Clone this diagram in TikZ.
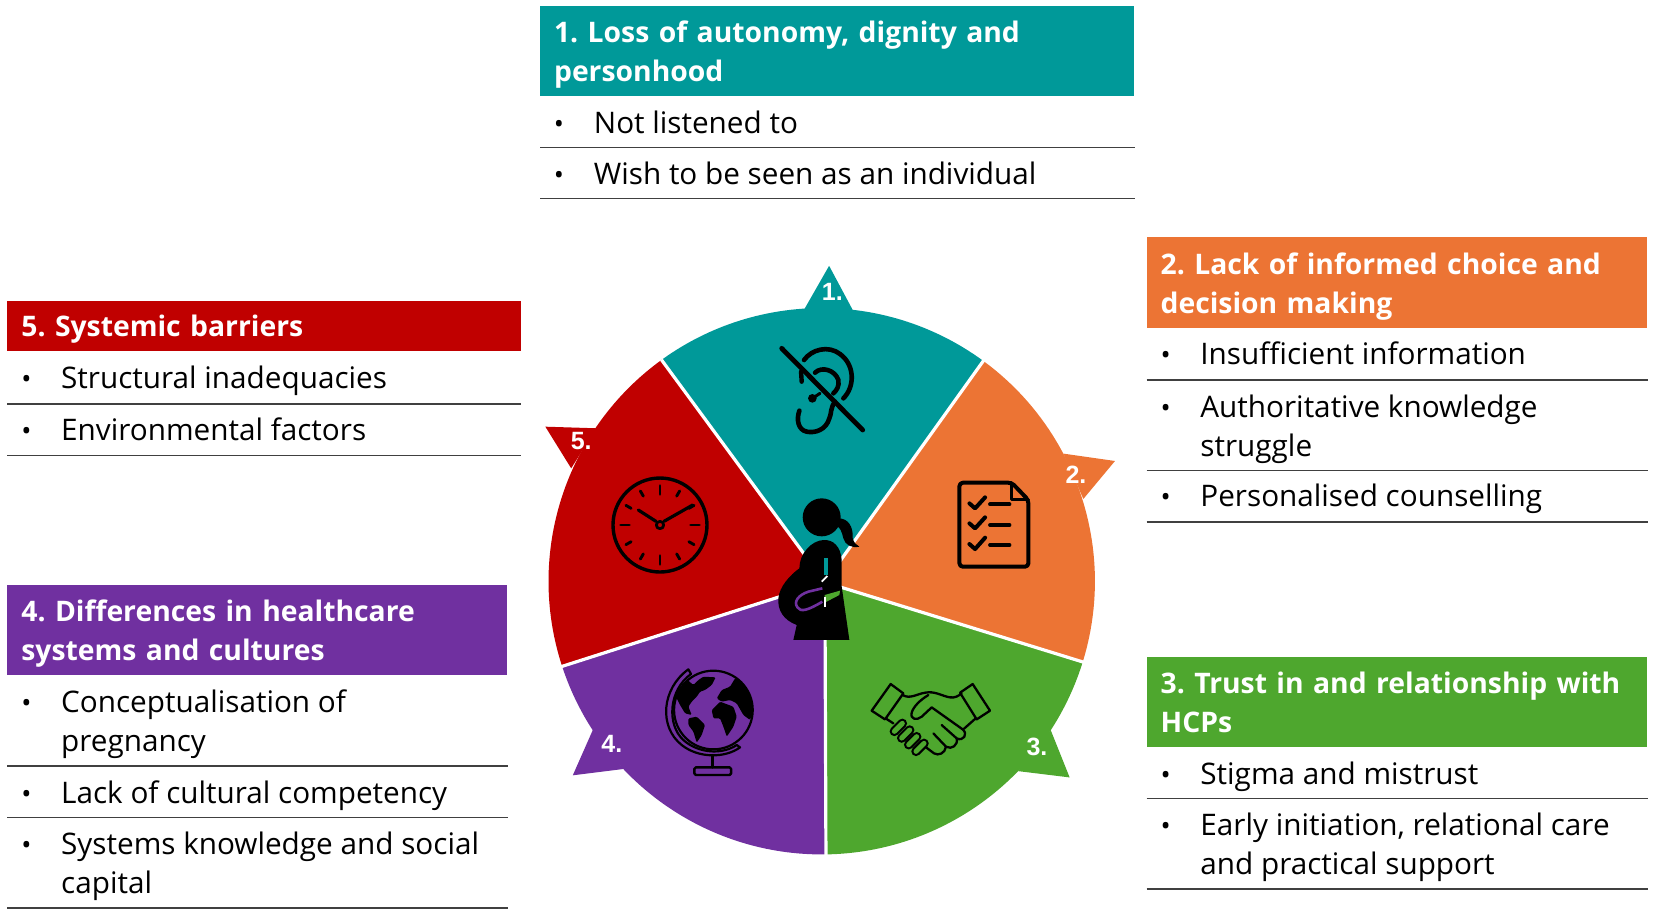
\documentclass[tikz,border=0pt]{standalone}
\usepackage{fontspec}
\setmainfont{Open Sans}
\newfontfamily\tipfont{Liberation Sans}
\definecolor{cteal}{HTML}{009999}
\definecolor{corange}{HTML}{EC7434}
\definecolor{cgreen}{HTML}{4EA72E}
\definecolor{cred}{HTML}{C00000}
\definecolor{cpurple}{HTML}{7030A0}
\definecolor{crule}{HTML}{404040}
\newcommand{\bodyfont}{\frenchspacing\fontsize{29.7}{39}\selectfont}
\newcommand{\headfont}{\frenchspacing\fontsize{28.3}{39}\selectfont\bfseries}
\tikzset{
  hdrbox/.style={anchor=north west,inner xsep=14pt,inner ysep=0pt,outer sep=0pt,align=left,text=white,font=\headfont},
  itemtext/.style={anchor=base west,inner sep=0pt,outer sep=0pt,align=left,font=\bodyfont,text=black},
  bullettext/.style={anchor=base,inner sep=0pt,outer sep=0pt,font=\fontsize{27}{27}\selectfont,text=black},
  tiplabel/.style={inner sep=0pt,text=white,font=\tipfont\fontsize{25}{25}\selectfont\bfseries},
  rulesep/.style={crule,line width=1.6pt},
  divider/.style={white,line width=3.2pt},
  icon/.style={black,line cap=round,line join=round},
}
\newcommand{\hdr}[7]{\node[hdrbox,fill=#2,minimum width={1.0548pt*(#5-#3)},minimum height={1.0548pt*(#6-#4)},text width={1.0548pt*(#5-#3)-28pt}] (#1) at (#3,#4) {\rule{0pt}{29pt}#7\rule[-7pt]{0pt}{7pt}};}
% name, bullet x, text x, last baseline, text, bullet baseline
\newcommand{\itm}[6]{\node[bullettext] (#1b) at (#2,#6) {•};\node[itemtext] (#1) at (#3,#4) {#5};}
\newcommand{\sep}[3]{\draw[rulesep] (#1,#3) -- (#2,#3);}
\newcommand{\sector}[4]{\fill[#1] (782,552) -- ([shift={(#2:259)}]779,551) arc[start angle=#2,end angle=#3,radius=259] -- cycle; \fill[#1] #4 -- cycle;}
\begin{document}
\begin{tikzpicture}[x=1.0548pt,y=-1.0548pt]
\useasboundingbox (0,0) rectangle (1568,868);
% pie
\sector{cteal}{-125.8}{-53.6}{(762,294) -- (786,252) -- (809,295)}
\sector{corange}{-53.6}{17.2}{(1008,430) -- (1057,437) -- (1027,473)}
\sector{cgreen}{17.2}{89.1}{(996,692) -- (1014,737) -- (965,731)}
\sector{cpurple}{89.1}{161.8}{(562,692) -- (543,735) -- (591,729)}
\sector{cred}{161.8}{234.2}{(565,406) -- (517,404.5) -- (541.5,444)}
\coordinate (apex) at (782,552);
\coordinate (e12) at (933,341);
\coordinate (e23) at (1028,628);
\coordinate (e34) at (783,811);
\coordinate (e45) at (532,632);
\coordinate (e51) at (627,341);
\foreach \e in {e12,e23,e34,e45,e51} \draw[divider] (apex) -- (\e);
\node[tiplabel] (t1) at (789,277) {1.};
\node[tiplabel] (t2) at (1020,450) {2.};
\node[tiplabel] (t3) at (983,708) {3.};
\node[tiplabel] (t4) at (580,705) {4.};
\node[tiplabel] (t5) at (551,418) {5.};
% ear
\begin{scope}[shift={(701.56,312.85)},x=0.3333pt,y=-0.3333pt,icon]
\draw[line width=4.6pt] (192,90) .. controls (215,58) and (265,45) .. (300,72) .. controls (345,105) and (345,170) .. (310,205);
\draw[line width=4.6pt] (225,128) .. controls (245,108) and (285,120) .. (295,150) .. controls (298,170) and (290,180) .. (280,190);
\draw[line width=4.6pt] (285,215) .. controls (270,235) and (275,250) .. (268,265) .. controls (258,300) and (225,310) .. (200,305) .. controls (175,300) and (168,270) .. (178,242);
\fill (217,205) circle[radius=13];
\draw[line width=3pt] (217,205) -- (240,190);
\draw[line width=4.4pt] (183,125) -- (185,155);
\draw[line width=4.8pt] (125,55) -- (368,300);
\end{scope}
% woman
\begin{scope}[shift={(701.56,312.85)},x=0.3333pt,y=-0.3333pt,icon]
\fill (245,562) circle[radius=57];
\fill (295,565) .. controls (325,565) and (340,590) .. (338,625) .. controls (342,640) and (350,645) .. (358,650) .. controls (335,655) and (315,645) .. (310,625) .. controls (305,605) and (300,590) .. (290,590) -- cycle;
\fill (250,630) .. controls (280,628) and (302,650) .. (305,690) -- (305,770) -- (328,930) -- (160,930) -- (170,885) .. controls (130,870) and (112,840) .. (115,805) .. controls (118,770) and (150,735) .. (178,715) .. controls (178,670) and (215,632) .. (250,630) -- cycle;
\draw[cteal,line width=3.4pt,line cap=butt] (258,685) -- (258,735);
\draw[white,line width=1.8pt,line cap=butt] (262,738) -- (245,755);
\draw[cpurple,line width=2.6pt,line cap=butt] (247,775) -- (205,785) .. controls (175,795) and (160,815) .. (172,832) .. controls (182,848) and (205,840) .. (247,815);
\fill[cgreen] (254,795) -- (300,782) -- (298,795) -- (254,818) -- cycle;
\draw[white,line width=2.2pt,line cap=butt] (254,800) -- (254,830);
\end{scope}
% checklist
\begin{scope}[shift={(891.2,445.6)},x=0.3333pt,y=-0.3333pt,icon,line width=4pt]
\draw[rounded corners=3.5pt] (215,38) -- (58,38) -- (58,290) -- (265,290) -- (265,90) -- cycle;
\draw[line width=3pt] (215,38) -- (215,88) -- (265,88);
\draw (88,100) -- (105,115) -- (135,82);
\draw (88,160) -- (105,175) -- (135,142);
\draw (88,222) -- (105,237) -- (135,203);
\draw (150,103) -- (208,103);
\draw (150,165) -- (208,165);
\draw (150,225) -- (208,225);
\end{scope}
% clock
\begin{scope}[shift={(568.8,436.1)},x=0.3333pt,y=-0.3333pt,icon]
\draw[line width=3.4pt] (180,195) circle[radius=141];
\foreach \a in {0,90,180,270} \draw[line width=2.9pt] ([shift={(\a:92)}]180,195) -- ([shift={(\a:118)}]180,195);
\foreach \a in {30,60,120,150,210,240,300,330} \draw[line width=2.9pt] ([shift={(\a:100)}]180,195) -- ([shift={(\a:118)}]180,195);
\draw[line width=3.2pt] (168,184) -- (115,150);
\draw[line width=3.2pt] (192,184) -- (278,135);
\draw[line width=2.8pt] (180,195) circle[radius=11];
\end{scope}
% globe
\begin{scope}[shift={(621,625.7)},x=0.3333pt,y=-0.3333pt,icon]
\begin{scope}
\clip (175,150) circle[radius=118];
\fill[rounded corners=1.2pt] (65,115) -- (70,85) -- (95,58) -- (115,75) -- (130,60) -- (145,50) -- (182,52) -- (170,75) -- (150,90) -- (135,95) -- (125,110) -- (110,125) -- (100,140) -- (110,165) -- (90,160) -- (75,135) -- cycle;
\fill[rounded corners=1.2pt] (100,175) -- (125,170) -- (150,195) -- (140,225) -- (125,248) -- (115,215) -- (100,195) -- cycle;
\fill[rounded corners=1.2pt] (170,150) -- (195,125) -- (235,140) -- (245,170) -- (235,200) -- (215,230) -- (205,200) -- (195,175) -- (175,175) -- cycle;
\fill[rounded corners=1.2pt] (185,115) -- (200,90) -- (225,80) -- (240,55) -- (280,70) -- (300,110) -- (295,150) -- (285,180) -- (265,165) -- (245,130) -- (225,120) -- (200,125) -- cycle;
\end{scope}
\draw[line width=2.2pt] (175,150) circle[radius=118];
\draw[line width=2.2pt] (100,28) .. controls (20,85) and (10,200) .. (80,255) .. controls (130,295) and (210,295) .. (255,262) -- (245,255) .. controls (200,285) and (130,280) .. (85,240) .. controls (35,195) and (40,90) .. (108,42) -- cycle;
\draw[line width=2.4pt] (172,285) -- (172,322);
\draw[line width=2.4pt,rounded corners=1.5pt] (118,322) rectangle (228,345);
\end{scope}
% handshake
\begin{scope}[shift={(815.3,635.2)},x=0.3333pt,y=-0.3333pt,icon,line width=2.3pt]
\draw (35,122) -- (92,42) -- (130,70) -- (75,148) -- cycle;
\draw (338,42) -- (390,122) -- (350,148) -- (300,68) -- cycle;
\draw (128,75) .. controls (150,88) and (170,72) .. (195,68) .. controls (225,62) and (245,78) .. (270,82) .. controls (285,84) and (295,78) .. (305,70);
\draw (205,75) .. controls (180,90) and (160,110) .. (155,128) .. controls (150,148) and (170,152) .. (185,140) -- (215,112) -- (308,178) .. controls (325,192) and (310,215) .. (290,205) -- (245,165);
\draw (347,145) -- (312,176);
\draw (290,205) .. controls (295,225) and (275,240) .. (258,230) -- (220,190);
\draw (258,230) .. controls (255,250) and (235,258) .. (222,250) -- (198,232);
\draw (80,147) -- (100,160);
\foreach \c/\d in {115/172,137/192,158/212,180/232} {
  \draw[black,line width=9.5pt] (\c-12,\d+12) -- (\c+12,\d-12);
}
\foreach \c/\d in {115/172,137/192,158/212,180/232} {
  \draw[cgreen,line width=5pt] (\c-12,\d+12) -- (\c+12,\d-12);
}
\end{scope}
% panel 1
\hdr{h1}{cteal}{512}{6}{1075}{91}{1. Loss of autonomy, dignity and\\personhood}
\itm{a1}{530}{563}{126.5}{Not listened to}{126.5}
\sep{512}{1076}{140}
\itm{a2}{530}{563}{174.5}{Wish to be seen as an individual}{174.5}
\sep{512}{1076}{188}
% panel 2
\hdr{h2}{corange}{1087}{225}{1561}{311}{2. Lack of informed choice and\\decision making}
\itm{b1}{1105}{1138}{345.5}{Insufficient information}{345.5}
\sep{1087}{1562}{360}
\itm{b2}{1105}{1138}{432.5}{Authoritative knowledge\\struggle}{395.5}
\sep{1087}{1562}{446}
\itm{b3}{1105}{1138}{480.5}{Personalised counselling}{480.5}
\sep{1087}{1562}{495}
% panel 3
\hdr{h3}{cgreen}{1087}{623}{1561}{708}{3. Trust in and relationship with\\HCPs}
\itm{c1}{1105}{1138}{743.5}{Stigma and mistrust}{743.5}
\sep{1087}{1562}{757}
\itm{c2}{1105}{1138}{829}{Early initiation, relational care\\and practical support}{792}
\sep{1087}{1562}{843}
% panel 4
\hdr{h4}{cpurple}{7}{555}{481}{640}{4. Differences in healthcare\\systems and cultures}
\itm{d1}{25}{58}{712.5}{Conceptualisation of\\pregnancy}{675.5}
\sep{7}{482}{726}
\itm{d2}{25}{58}{761.5}{Lack of cultural competency}{761.5}
\sep{7}{482}{775}
\itm{d3}{25}{58}{847.5}{Systems knowledge and social\\capital}{810.5}
\sep{7}{482}{861}
% panel 5
\hdr{h5}{cred}{7}{285}{494}{333}{5. Systemic barriers}
\itm{e1}{25}{58}{368.5}{Structural inadequacies}{368.5}
\sep{7}{494}{383}
\itm{e2}{25}{58}{418}{Environmental factors}{418}
\sep{7}{494}{432}
\end{tikzpicture}
\end{document}
